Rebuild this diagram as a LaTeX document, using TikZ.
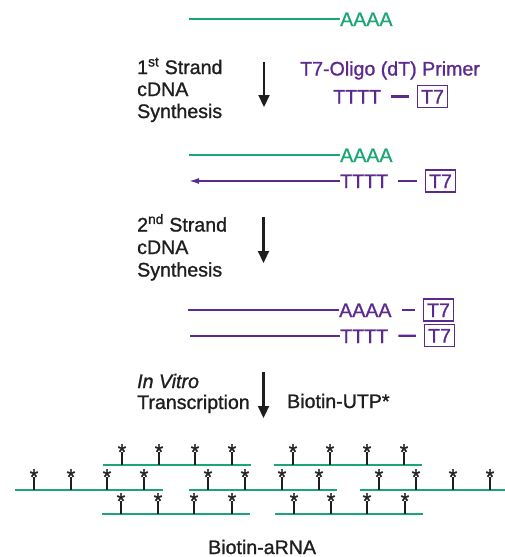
\documentclass[tikz,border=0pt]{standalone}
\usepackage{fontspec}
\setmainfont{Liberation Sans}[FakeBold=1.1]
\usetikzlibrary{arrows.meta}
\definecolor{rnagreen}{RGB}{28,166,116}
\definecolor{dnapurple}{RGB}{92,42,142}
\definecolor{inkgray}{RGB}{30,30,30}
\begin{document}
\begin{tikzpicture}[x=1pt,y=-1pt,
  txt/.style={inner sep=0pt, anchor=west, text height=14pt, text depth=0pt, font=\fontsize{19.6}{22}\selectfont},
  gtxt/.style={txt, text=rnagreen},
  ptxt/.style={txt, text=dnapurple},
  btxt/.style={txt, text=inkgray},
  t7box/.style={draw=dnapurple, line width=1.1pt, text=dnapurple, inner sep=0pt,
     minimum width=30pt, minimum height=22pt, text height=14pt, text depth=0pt,
     font=\fontsize{19.6}{22}\selectfont},
  gline/.style={draw=rnagreen, line width=1.7pt},
  pline/.style={draw=dnapurple, line width=1.6pt},
  linker/.style={draw=dnapurple, line width=2.2pt, shorten <=10pt, shorten >=8pt},
  steparrow/.style={draw=inkgray, line width=2.2pt, -{Triangle[length=12pt,width=11pt]}},
  rna/.style={draw=rnagreen, line width=1.8pt},
  tick/.style={draw=inkgray, line width=1.4pt},
  biostar/.style={inner sep=0pt, anchor=base, text=inkgray, font=\fontsize{22}{22}\selectfont}
]
\useasboundingbox (0,0) rectangle (505,557);

% ---- mRNA ----
\node[gtxt] (aaaa1) at (340,19) {AAAA};
\coordinate (m1) at (189,19);
\draw[gline] (m1) -- (aaaa1.west);

% ---- step 1 ----
\node[btxt] (s1a) at (137,67) {1\textsuperscript{st} Strand};
\node[btxt] (s1b) at (137,89) {cDNA};
\node[btxt] (s1c) at (137,111) {Synthesis};
\coordinate (a1s) at (264,62);
\coordinate (a1e) at (264,107);
\draw[steparrow] (a1s) -- (a1e);
\node[ptxt] (primer) at (300,68.5) {T7-Oligo (dT) Primer};
\node[ptxt] (tttt1) at (333,96.5) {TTTT};
\node[t7box] (t7a) at (432.5,96.5) {T7};
\draw[linker] (tttt1) -- (t7a);

% ---- after 1st strand ----
\node[gtxt] (aaaa2) at (340,155) {AAAA};
\coordinate (m2) at (189,155);
\draw[gline] (m2) -- (aaaa2.west);
\node[ptxt] (tttt2) at (340,181) {TTTT};
\coordinate (c2) at (189,181);
\draw[pline, -{Latex[length=10pt,width=6pt]}] (tttt2.west) -- (c2);
\node[t7box] (t7b) at (440.5,181) {T7};
\draw[linker] (tttt2) -- (t7b);

% ---- step 2 ----
\node[btxt] (s2a) at (137,224.5) {2\textsuperscript{nd} Strand};
\node[btxt] (s2b) at (137,247) {cDNA};
\node[btxt] (s2c) at (137,269.5) {Synthesis};
\coordinate (a2s) at (263.5,217);
\coordinate (a2e) at (263.5,263);
\draw[steparrow] (a2s) -- (a2e);

% ---- double-stranded cDNA ----
\node[ptxt] (aaaa3) at (339,310) {AAAA};
\coordinate (d1) at (188,310);
\draw[pline] (d1) -- (aaaa3.west);
\node[t7box] (t7c) at (438.5,310) {T7};
\draw[linker] (aaaa3) -- (t7c);
\node[ptxt] (tttt3) at (340,336) {TTTT};
\coordinate (d2) at (190,336);
\draw[pline] (d2) -- (tttt3.west);
\node[t7box] (t7d) at (439.5,335.5) {T7};
\draw[linker] (tttt3) -- (t7d);

% ---- step 3 ----
\node[btxt] (iv1) at (137,381) {\textit{In Vitro}};
\node[btxt] (iv2) at (137,402) {Transcription};
\node[btxt] (utp) at (287,401) {Biotin-UTP*};
\coordinate (a3s) at (263.5,372);
\coordinate (a3e) at (263.5,418);
\draw[steparrow] (a3s) -- (a3e);

% ---- biotin-labelled aRNA ----
\foreach \xa/\xb/\yy/\ticks in {
   103/251/465/{122,159,195,232},
   274/422/465/{293,330,367,404},
   15/163/490/{34,71,107,144},
   189/337/490/{208,245,282,319},
   360/505/490/{379,416,453,490},
   102/250/514/{121,158,194,232},
   275/423/514/{294,331,367,405}} {
  \coordinate (r\yy-\xa-a) at (\xa,\yy);
  \coordinate (r\yy-\xa-b) at (\xb,\yy);
  \draw[rna] (r\yy-\xa-a) -- (r\yy-\xa-b);
  \foreach \t in \ticks {
    \coordinate (k\yy-\t) at (\t,\yy);
    \node[biostar] (st\yy-\t) at (\t,\yy-5.5) {*};
    \draw[tick] (k\yy-\t) -- ++(0,-13.5);
  }
}

\node[btxt] (label) at (208,547) {Biotin-aRNA};
\end{tikzpicture}
\end{document}
